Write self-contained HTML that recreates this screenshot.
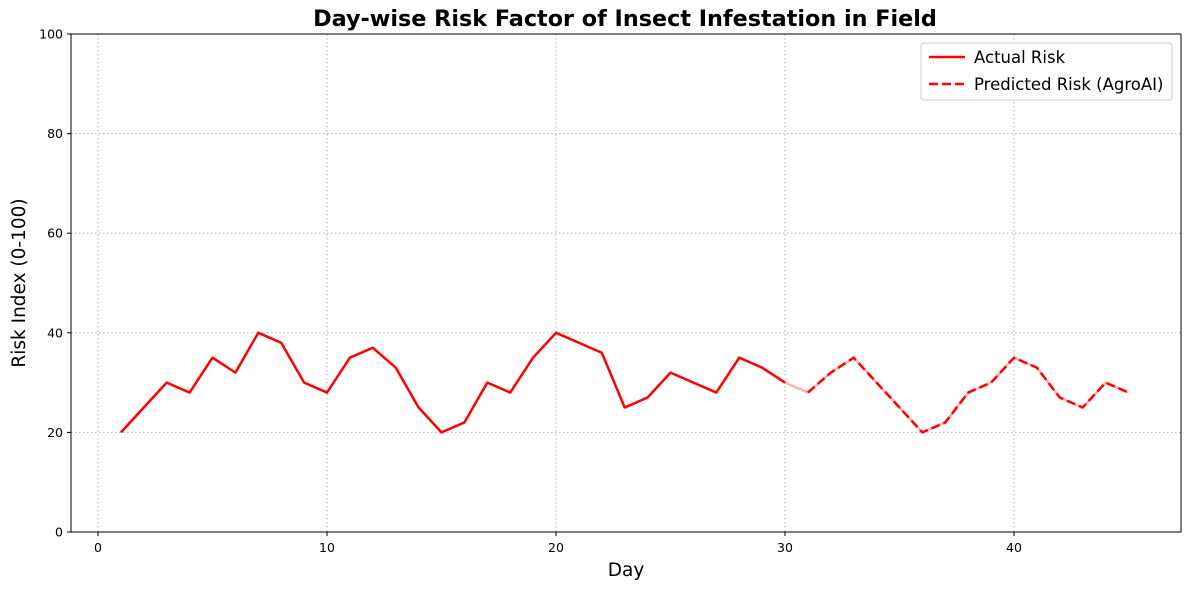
<!DOCTYPE html>
<html><head><meta charset="utf-8"><style>
body{margin:0;background:#fff;font-family:"DejaVu Sans",sans-serif}
</style></head><body>
<svg width="1189" height="590" xmlns="http://www.w3.org/2000/svg" font-family="DejaVu Sans, sans-serif">
<text x="625" y="26" text-anchor="middle" font-size="22.3" font-weight="bold">Day-wise Risk Factor of Insect Infestation in Field</text>
<g id="grid"></g>
<g id="axes"></g>
<g id="series"></g>
<rect x="71" y="34" width="1110" height="498" fill="none" stroke="#000" stroke-width="1"/>
<text x="626" y="576" text-anchor="middle" font-size="18.5">Day</text>
<text transform="translate(25,283) rotate(-90)" text-anchor="middle" font-size="18.5">Risk Index (0-100)</text>
<g>
<rect x="921" y="43" width="251" height="57" rx="3" fill="#fff" stroke="#ccc"/>
<line x1="929" y1="57" x2="965" y2="57" stroke="red" stroke-width="2.5"/>
<text x="974" y="63" font-size="16.5">Actual Risk</text>
<line x1="929" y1="84" x2="965" y2="84" stroke="red" stroke-width="2.5" stroke-dasharray="9,4"/>
<text x="974" y="90" font-size="16.5">Predicted Risk (AgroAI)</text>
</g>
</svg>
<script>
const actualDays=[1,2,3,4,5,6,7,8,9,10,11,12,13,14,15,16,17,18,19,20,21,22,23,24,25,26,27,28,29,30];
const actualRisk=[20,25,30,28,35,32,40,38,30,28,35,37,33,25,20,22,30,28,35,40,38,36,25,27,32,30,28,35,33,30];
const predDays=[30,31,32,33,34,35,36,37,38,39,40,41,42,43,44,45];
const predRisk=[30,28,32,35,30,25,20,22,28,30,35,33,27,25,30,28];
const xTicks=[0,10,20,30,40];
const yTicks=[0,20,40,60,80,100];
const NS="http://www.w3.org/2000/svg";
const X=d=>98+d*22.9;
const Y=v=>532-v*4.98;
const grid=document.getElementById('grid'),axes=document.getElementById('axes'),ser=document.getElementById('series');
function mk(tag,attrs,parent){const e=document.createElementNS(NS,tag);for(const k in attrs)e.setAttribute(k,attrs[k]);parent.appendChild(e);return e;}
xTicks.forEach(t=>{
 const g=mk('line',{x1:X(t),x2:X(t),y1:34,y2:532,stroke:'#b0b0b0','stroke-dasharray':'1.5,2.5','stroke-width':1},grid);
 
 
 mk('line',{x1:X(t),x2:X(t),y1:532,y2:536,stroke:'#000'},axes);
 const tx=mk('text',{x:X(t),y:552,'text-anchor':'middle','font-size':12.5},axes);tx.textContent=t;
 
 
});
yTicks.forEach(t=>{
 const g=mk('line',{x1:71,x2:1181,y1:Y(t),y2:Y(t),stroke:'#b0b0b0','stroke-dasharray':'1.5,2.5','stroke-width':1},grid);
 
 
 mk('line',{x1:67,x2:71,y1:Y(t),y2:Y(t),stroke:'#000'},axes);
 const tx=mk('text',{x:63,y:Y(t)+4.5,'text-anchor':'end','font-size':12.5},axes);tx.textContent=t;
 
 
});
const pts=(ds,vs)=>ds.map((d,i)=>X(d)+','+Y(vs[i])).join(' ');
const a=mk('polyline',{points:pts(actualDays,actualRisk),fill:'none',stroke:'red','stroke-width':2.5,'stroke-linejoin':'round'},ser);


const pl=mk('polyline',{points:pts(predDays,predRisk),fill:'none',stroke:'red','stroke-opacity':0.3,'stroke-width':2.5},ser);


const p=mk('polyline',{points:pts(predDays.slice(1),predRisk.slice(1)),fill:'none',stroke:'red','stroke-width':2.5,'stroke-dasharray':'9,4'},ser);


</script>
</body></html>
